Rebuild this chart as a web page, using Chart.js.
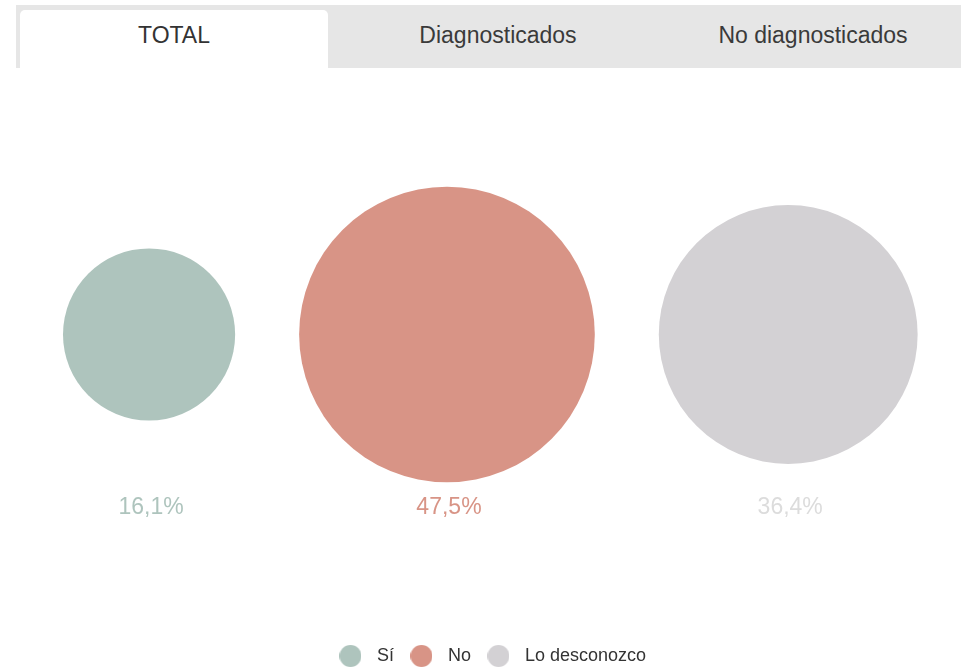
<!DOCTYPE html>
<html>
<head>
<meta charset="utf-8">
<script src="https://cdn.jsdelivr.net/npm/chart.js@4"></script>
<style>
  body { margin: 0; background: #fff; font-family: "Liberation Sans", Arial, sans-serif; overflow: hidden; }
  #pestanas { position: absolute; left: 16px; top: 5px; width: 960px; height: 63px; background: #e6e6e6; }
  .tab { position: absolute; top: 5px; height: 58px; width: 308px; text-align: center; line-height: 50px; font-size: 23px; color: #3a3a3a; }
  .tab.activa { background: #fff; border-radius: 5px 5px 0 0; color: #333; }
  #grafico { position: absolute; left: 20px; top: 0; }
</style>
</head>
<body>
<div id="pestanas">
  <div class="tab activa" style="left:4px">TOTAL</div>
  <div class="tab" style="left:328px">Diagnosticados</div>
  <div class="tab" style="left:643px">No diagnosticados</div>
</div>
<canvas id="grafico" width="939" height="678"></canvas>
<script>
var categorias = ['Sí', 'No', 'Lo desconozco'];
var porcentajes = [16.1, 47.5, 36.4];
var etiquetas = ['16,1%', '47,5%', '36,4%'];
var colores = ['#aec4bd', '#d89486', '#d3d1d4'];
var coloresTexto = ['#aec4bd', '#d89486', '#dcdcdc'];

// radio proporcional al área (r = k * raiz(valor)), burbujas alineadas con separación fija
var k = 21.45, inicio = 43, hueco = 64;
var radios = porcentajes.map(function (v) { return k * Math.sqrt(v); });
var centros = [];
var borde = inicio;
radios.forEach(function (r) { centros.push(borde + r); borde += 2 * r + hueco; });

function circuloLeyenda(color) {
    var c = document.createElement('canvas');
    c.width = 22; c.height = 22;
    var g = c.getContext('2d');
    g.fillStyle = color;
    g.beginPath(); g.arc(11, 11, 11, 0, Math.PI * 2); g.fill();
    return c;
}
var iconos = colores.map(circuloLeyenda);

var etiquetasPlugin = {
    id: 'etiquetas',
    afterDatasetsDraw: function (chart) {
        var ctx = chart.ctx;
        var yCentro = chart.scales.y.getPixelForValue(0);
        ctx.save();
        ctx.font = '23px "Liberation Sans", Arial, sans-serif';
        ctx.textAlign = 'center';
        ctx.textBaseline = 'middle';
        chart.data.datasets.forEach(function (ds, i) {
            var p = chart.getDatasetMeta(i).data[0];
            ctx.fillStyle = coloresTexto[i];
            ctx.fillText(etiquetas[i], p.x + 2, yCentro + 173);
        });
        ctx.restore();
    }
};

var ctx = document.getElementById('grafico').getContext('2d');
var chart = new Chart(ctx, {
    type: 'bubble',
    data: {
        datasets: categorias.map(function (c, i) {
            return {
                label: c,
                data: [{ x: centros[i], y: 0, r: radios[i] }],
                backgroundColor: colores[i],
                borderWidth: 0,
                hoverBorderWidth: 0,
                clip: false
            };
        })
    },
    plugins: [etiquetasPlugin],
    options: {
        responsive: false,
        animation: false,
        devicePixelRatio: 1,
        layout: { autoPadding: false, padding: { top: 32, bottom: 3, left: 0, right: 0 } },
        scales: {
            x: { display: false, min: 0, max: 939 },
            y: { display: false, min: -1, max: 1 }
        },
        plugins: {
            tooltip: { enabled: false },
            legend: {
                display: true,
                position: 'bottom',
                labels: {
                    usePointStyle: true,
                    pointStyleWidth: 35,
                    padding: 10,
                    color: '#333',
                    font: { size: 18, family: '"Liberation Sans", Arial, sans-serif' },
                    generateLabels: function (chart) {
                        var base = Chart.defaults.plugins.legend.labels.generateLabels(chart);
                        base.forEach(function (it, i) { it.pointStyle = iconos[i]; });
                        return base;
                    }
                }
            }
        }
    }
});
</script>
</body>
</html>
